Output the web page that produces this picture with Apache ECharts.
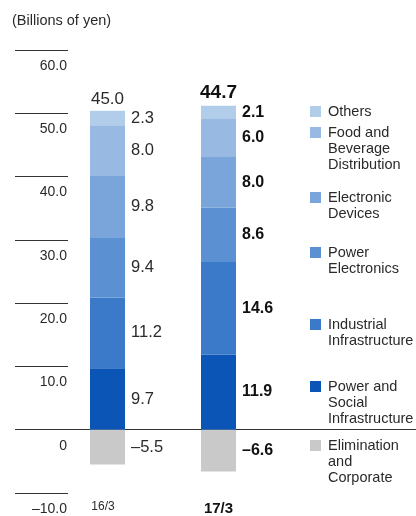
<!DOCTYPE html>
<html><head><meta charset="utf-8">
<script src="https://cdn.jsdelivr.net/npm/echarts@6/dist/echarts.min.js"></script>
<style>html,body{margin:0;padding:0;background:#fff}#c{width:416px;height:516px}</style>
</head><body><div id="c"></div>
<script>
const categories = ['16/3', '17/3'];
const totals = [45.0, 44.7];
const powerSocial = [9.7, 11.9];
const industrial = [11.2, 14.6];
const powerElectronics = [9.4, 8.6];
const electronicDevices = [9.8, 8.0];
const foodBeverage = [8.0, 6.0];
const others = [2.3, 2.1];
const elimination = [-5.5, -6.6];
const yTicks = { min: -10, max: 60, interval: 10 };

const FONT = 'Liberation Sans';
const TXT = '#2a2a2a';
const seriesDefs = [
  { name: 'Power and\nSocial\nInfrastructure', data: powerSocial, color: '#0a55b5', iy: 387 },
  { name: 'Industrial\nInfrastructure', data: industrial, color: '#3b79c9', iy: 325 },
  { name: 'Power\nElectronics', data: powerElectronics, color: '#5b91d2', iy: 253 },
  { name: 'Electronic\nDevices', data: electronicDevices, color: '#79a5da', iy: 198 },
  { name: 'Food and\nBeverage\nDistribution', data: foodBeverage, color: '#98b9e2', iy: 133 },
  { name: 'Others', data: others, color: '#b2cdea', iy: 112 },
  { name: 'Elimination\nand\nCorporate', data: elimination, color: '#c8c9c8', iy: 446 }
];
const fmt = v => (v < 0 ? '\u2013' : '') + Math.abs(v).toFixed(1);
const posSums = categories.map((c, i) => seriesDefs.reduce((s, d) => s + (d.data[i] > 0 ? d.data[i] : 0), 0));

const series = seriesDefs.map(d => ({
  type: 'bar', name: d.name, stack: 'a', xAxisIndex: 1, yAxisIndex: 1,
  barWidth: 35, data: d.data, itemStyle: { color: d.color },
  label: {
    show: true, position: 'right', distance: 6, color: TXT,
    formatter: p => (p.dataIndex === 1 ? '{b|' : '{r|') + fmt(p.value) + '}',
    rich: {
      r: { fontFamily: FONT, fontSize: 16.5, color: TXT },
      b: { fontFamily: FONT, fontSize: 16, fontWeight: 'bold', color: '#111' }
    }
  }
}));
series.push({
  type: 'scatter', name: 'total', xAxisIndex: 1, yAxisIndex: 1, symbolSize: 0,
  data: posSums, silent: true, itemStyle: { opacity: 1 },
  label: {
    show: true, position: 'top', distance: 3, color: TXT, opacity: 1,
    formatter: p => (p.dataIndex === 1 ? '{b|' : '{r|') + totals[p.dataIndex].toFixed(1) + '}',
    rich: {
      r: { fontFamily: FONT, fontSize: 17, color: TXT },
      b: { fontFamily: FONT, fontSize: 19, fontWeight: 'bold', color: '#111' }
    }
  }
});

const legendGraphics = [];
seriesDefs.forEach(d => {
  legendGraphics.push({ type: 'rect', left: 310, top: d.iy - 6, shape: { width: 11, height: 11 }, style: { fill: d.color }, silent: true });
  legendGraphics.push({ type: 'text', left: 328, top: d.iy - 8, silent: true,
    style: { text: d.name, fontFamily: FONT, fontSize: 14.5, lineHeight: 16, fill: TXT } });
});

const chart = echarts.init(document.getElementById('c'));
chart.setOption({
  animation: false,
  textStyle: { fontFamily: FONT },
  title: { text: '(Billions of yen)', left: 12, top: 13, padding: 0,
    textStyle: { fontFamily: FONT, fontSize: 14.5, fontWeight: 'normal', color: TXT } },
  graphic: legendGraphics,
  grid: [
    { left: 68, right: 0, top: 50, bottom: 16 },
    { left: 52, width: 222, top: 50, bottom: 16 }
  ],
  xAxis: [
    { gridIndex: 0, type: 'category', data: [''], axisLine: { show: true, onZero: true, lineStyle: { color: '#333', width: 1 } },
      axisTick: { show: false }, axisLabel: { show: false } },
    { gridIndex: 1, type: 'category', data: categories, axisLine: { show: false }, axisTick: { show: false },
      axisLabel: { margin: 8, formatter: (v, i) => i === 1 ? '{b|' + v + '}' : '{r|' + v + '}',
        rich: { r: { fontFamily: FONT, fontSize: 12, color: TXT, padding: [0, 9, 0, 0] }, b: { fontFamily: FONT, fontSize: 15, fontWeight: 'bold', color: '#111' } } } }
  ],
  yAxis: [
    { gridIndex: 0, type: 'value', min: yTicks.min, max: yTicks.max, interval: yTicks.interval,
      splitLine: { show: false }, axisLine: { show: false },
      axisTick: { show: true, length: 53, lineStyle: { color: '#333', width: 1 } },
      axisLabel: { margin: 1, verticalAlign: 'top', padding: [9, 0, 0, 0], fontFamily: FONT, fontSize: 14, color: TXT,
        formatter: v => v === 0 ? '0' : fmt(v) } },
    { gridIndex: 1, type: 'value', min: yTicks.min, max: yTicks.max, interval: yTicks.interval, show: false }
  ],
  series: series
});
</script></body></html>
